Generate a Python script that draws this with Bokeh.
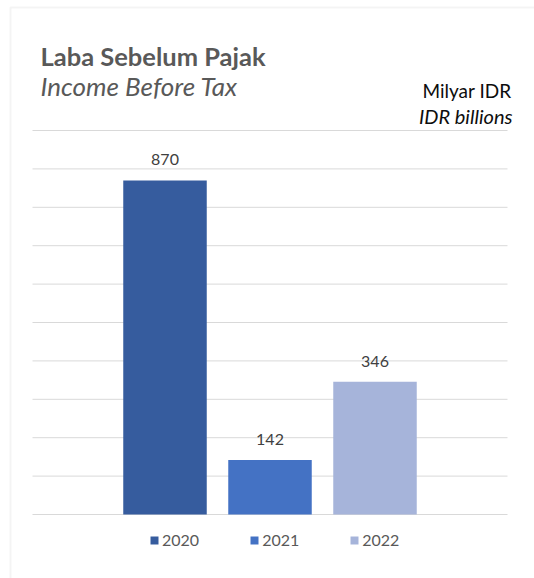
from bokeh.plotting import figure
from bokeh.models import (ColumnDataSource, Range1d, Label, LabelSet, Legend,
                          LegendItem, BoxAnnotation)
from bokeh.core.properties import value
from bokeh.embed import file_html
from bokeh.resources import INLINE

# ---- data ----
years = ["2020", "2021", "2022"]
values = [870, 142, 346]
colors = ["#365C9E", "#4472C4", "#A6B4DA"]
title_id = "Laba Sebelum Pajak"
title_en = "Income Before Tax"
unit_id = "Milyar IDR"
unit_en = "IDR billions"
y_max = 1000
grid_step = 100

FONT = "Lato"

# ---- layout (pixels) ----
W, H = 534, 578
plot_left, plot_right, plot_top, plot_bottom = 32, 507, 130, 514
bar_pitch, first_center, bar_px = 105.0, 164.5, 83.5

ky = (plot_bottom - plot_top) / y_max


def dx(px):
    return (px - first_center) / bar_pitch


def dy(py):
    return (plot_bottom - py) / ky


p = figure(width=W, height=H, output_backend="svg", toolbar_location=None,
           x_range=Range1d(dx(0), dx(W)), y_range=Range1d(dy(H), dy(0)),
           min_border=0, min_border_left=0, min_border_right=0,
           min_border_top=0, min_border_bottom=0)
p.title.visible = False
p.outline_line_color = None
p.xaxis.visible = False
p.yaxis.visible = False
p.xgrid.visible = False
p.ygrid.visible = False
p.background_fill_color = "white"
p.border_fill_color = "white"

# outer chart frame (left & top edges visible)
p.add_layout(BoxAnnotation(left=dx(10), top=dy(7), right=dx(W + 50), bottom=dy(H + 50),
                           fill_alpha=0, line_color="#D9D9D9", line_width=2))

# horizontal gridlines
grid_vals = list(range(0, y_max + 1, grid_step))
p.segment(x0=[dx(plot_left)] * len(grid_vals), x1=[dx(plot_right)] * len(grid_vals),
          y0=grid_vals, y1=grid_vals, line_color="#D9D9D9", line_width=1,
          level="underlay")

xs = list(range(len(years)))
src = ColumnDataSource(dict(x=xs, top=values, year=years, color=colors,
                            label=[str(v) for v in values]))
r = p.vbar(x="x", top="top", bottom=0, width=bar_px / bar_pitch, source=src,
           fill_color="color", line_color=None)

p.add_layout(LabelSet(x="x", y="top", text="label", source=src, y_offset=15,
                      text_align="center", text_baseline="alphabetic",
                      text_font=value(FONT), text_font_size=value("16px"),
                      text_color=value("#404040")))


def lab(text, px, py, size, style, color, align="left"):
    p.add_layout(Label(x=dx(px), y=dy(py), text=text,
                       text_font=FONT, text_font_size=size, text_font_style=style,
                       text_color=color, text_align=align, text_baseline="alphabetic"))


lab(title_id, 40, 55, "25.5px", "bold", "#595959")
lab(title_en, 40, 85, "26px", "italic", "#595959")
lab(unit_id, 511, 90, "19px", "normal", "#0D0D0D", "right")
lab(unit_en, 512, 115, "20px", "italic", "#0D0D0D", "right")

items = [LegendItem(label=y, renderers=[r], index=i) for i, y in enumerate(years)]
legend = Legend(items=items, orientation="horizontal", location=(149, H - 549),
                glyph_width=10, glyph_height=10, label_height=10, label_standoff=3,
                spacing=50, padding=0, margin=0, border_line_color=None,
                background_fill_alpha=0, label_text_font=FONT,
                label_text_font_size="16px", label_text_color="#595959")
p.add_layout(legend, "center")

open("out.html", "w").write(file_html(p, INLINE))
